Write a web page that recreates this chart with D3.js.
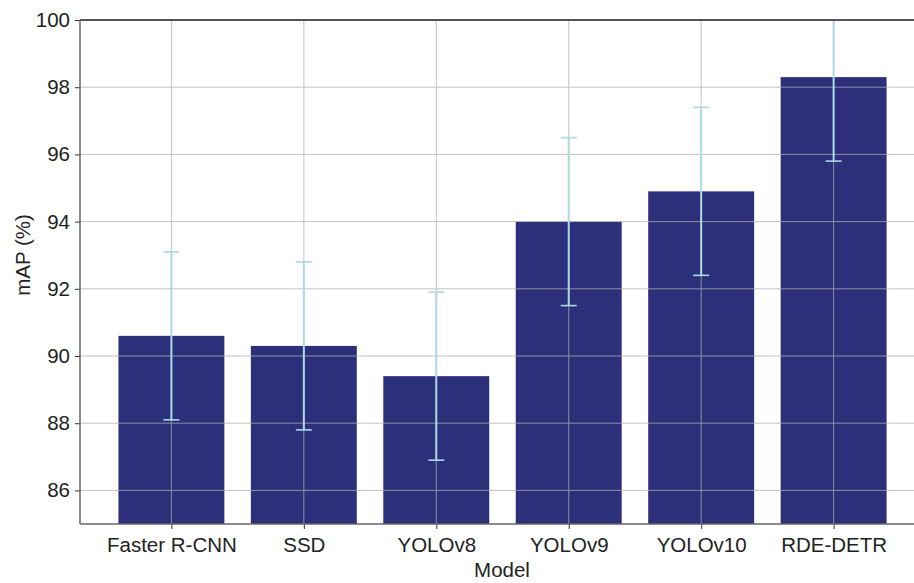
<!DOCTYPE html>
<html><head><meta charset="utf-8">
<script src="https://cdn.jsdelivr.net/npm/d3@7"></script>
<style>body{margin:0;background:#fff}svg{display:block}text{font-family:"Liberation Sans",Arial,sans-serif;fill:#222}</style>
</head><body><svg id="c" width="914" height="583"></svg>
<script>
const models = ["Faster R-CNN","SSD","YOLOv8","YOLOv9","YOLOv10","RDE-DETR"];
const mapValues = [90.6, 90.3, 89.4, 94.0, 94.9, 98.3];
const mapErrors = [2.5, 2.5, 2.5, 2.5, 2.5, 2.5];
const yTicks = [86, 88, 90, 92, 94, 96, 98, 100];

const svg = d3.select("#c");
const L = 80, R = 925, T = 20, B = 524;
const FS = 20.5;
const x = d3.scaleLinear().domain([-0.69, models.length - 1 + 0.69]).range([L, R]);
const y = d3.scaleLinear().domain([85, 100]).range([B, T]);
const bw = x(0.8) - x(0);

svg.append("defs").append("clipPath").attr("id","pc")
  .append("rect").attr("x",L).attr("y",T).attr("width",R-L).attr("height",B-T);

const g = svg.append("g").attr("clip-path","url(#pc)");
// bars
g.selectAll("rect.bar").data(models).join("rect").attr("class","bar")
  .attr("x",(d,i)=>x(i)-bw/2).attr("width",bw)
  .attr("y",(d,i)=>y(mapValues[i])).attr("height",(d,i)=>y(85)-y(mapValues[i]))
  .attr("fill","#2c2f79");
// grid
const grid = g.append("g").attr("stroke","#b0b0b0").attr("stroke-width",1).attr("opacity",0.75);
grid.selectAll("line.h").data(yTicks).join("line")
  .attr("x1",L).attr("x2",R).attr("y1",d=>y(d)).attr("y2",d=>y(d));
grid.selectAll("line.v").data(models).join("line")
  .attr("x1",(d,i)=>x(i)).attr("x2",(d,i)=>x(i)).attr("y1",T).attr("y2",B);
// error bars
const eb = g.append("g").attr("stroke","#add8e6").attr("stroke-width",2);
models.forEach((m,i)=>{
  const lo = mapValues[i]-mapErrors[i], hi = mapValues[i]+mapErrors[i];
  eb.append("line").attr("x1",x(i)).attr("x2",x(i)).attr("y1",y(lo)).attr("y2",y(hi));
  eb.append("line").attr("x1",x(i)-8).attr("x2",x(i)+8).attr("y1",y(lo)).attr("y2",y(lo)).attr("stroke-width",1.6);
  eb.append("line").attr("x1",x(i)-8).attr("x2",x(i)+8).attr("y1",y(hi)).attr("y2",y(hi)).attr("stroke-width",1.6);
});

// axes
const yAxis = svg.append("g").attr("transform",`translate(${L},0)`)
  .call(d3.axisLeft(y).tickValues(yTicks).tickSize(5).tickPadding(5));
yAxis.select(".domain").remove();
yAxis.selectAll("line").attr("stroke","#333");
yAxis.selectAll("text").attr("font-size",FS).style("fill","#222").attr("font-family","Liberation Sans, Arial, sans-serif");

const xAxis = svg.append("g").attr("transform",`translate(0,${B})`)
  .call(d3.axisBottom(x).tickValues(d3.range(models.length)).tickFormat(i=>models[i]).tickSize(5).tickPadding(8));
xAxis.select(".domain").remove();
xAxis.selectAll("line").attr("stroke","#333");
xAxis.selectAll("text").attr("font-size",FS).style("fill","#222").attr("font-family","Liberation Sans, Arial, sans-serif");

// spines
svg.append("line").attr("x1",L).attr("x2",R).attr("y1",T).attr("y2",T).attr("stroke","#222").attr("stroke-width",1.3);
svg.append("line").attr("x1",L).attr("x2",R).attr("y1",B).attr("y2",B).attr("stroke","#666").attr("stroke-width",1.5);
svg.append("line").attr("x1",L).attr("x2",L).attr("y1",T).attr("y2",B).attr("stroke","#666").attr("stroke-width",1.5);

// labels
svg.append("text").attr("x",502).attr("y",577).attr("text-anchor","middle").attr("font-size",FS).text("Model");
svg.append("text").attr("transform","translate(30,255) rotate(-90)").attr("text-anchor","middle").attr("font-size",FS).text("mAP (%)");
</script></body></html>
